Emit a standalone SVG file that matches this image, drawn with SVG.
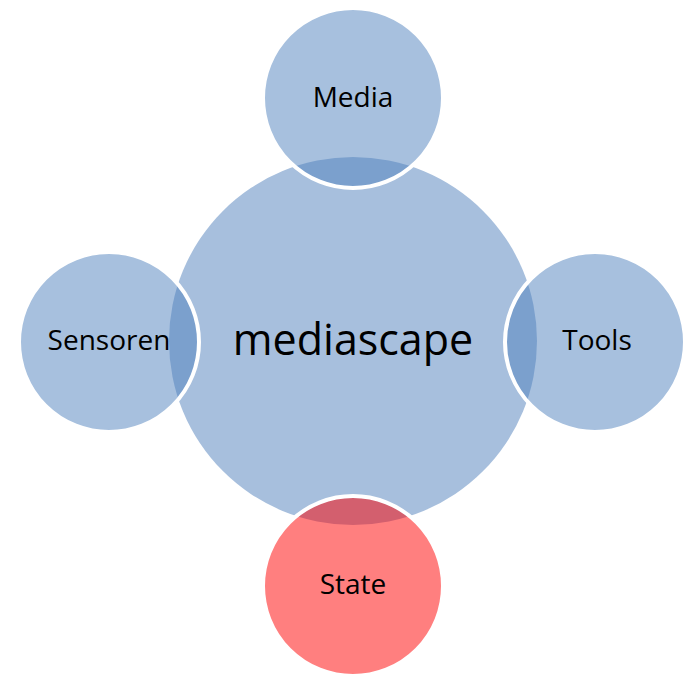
<svg xmlns="http://www.w3.org/2000/svg" width="683" height="675" viewBox="0 0 683 675">
  <style>
    .hub { fill: #A7BFDD; }
    .sat { fill: #4F81BD; fill-opacity: 0.5; stroke: #FFFFFF; stroke-width: 4; }
    .sat-red { fill: #FF0000; fill-opacity: 0.5; stroke: #FFFFFF; stroke-width: 4; }
    .label { font-family: "Open Sans", "Noto Sans", sans-serif; font-size: 28px; fill: #000000; text-anchor: middle; }
    .hub-label { font-family: "Open Sans", "Noto Sans", sans-serif; font-size: 43px; fill: #000000; text-anchor: middle; }
  </style>
  <rect width="683" height="675" fill="#FFFFFF"/>
  <g id="connectors"></g>
  <g id="node-mediascape">
    <circle class="hub" cx="353" cy="341" r="184"/>
    <text class="hub-label" x="353" y="355">mediascape</text>
  </g>
  <g id="node-media">
    <circle class="sat" cx="353" cy="98" r="90"/>
    <text class="label" x="353" y="107">Media</text>
  </g>
  <g id="node-sensoren">
    <circle class="sat" cx="109" cy="342" r="90"/>
    <text class="label" x="109" y="350">Sensoren</text>
  </g>
  <g id="node-tools">
    <circle class="sat" cx="595" cy="342" r="90"/>
    <text class="label" x="597" y="350">Tools</text>
  </g>
  <g id="node-state">
    <circle class="sat-red" cx="353" cy="586" r="90"/>
    <text class="label" x="353" y="594">State</text>
  </g>
</svg>
